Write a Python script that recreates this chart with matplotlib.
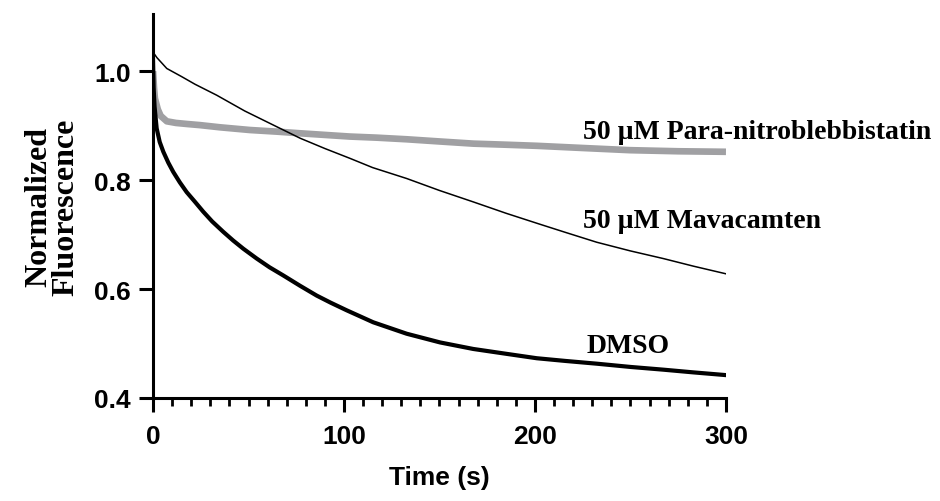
import numpy as np
import matplotlib
matplotlib.use('Agg')
import matplotlib.pyplot as plt
from matplotlib.ticker import MultipleLocator

# values (time in s, normalized fluorescence)
dmso_t = [0, 0.3, 0.8, 1.9, 3.5, 5.4, 8.0, 10.6, 14.0, 17.6, 22.0, 26.3, 31.0,
          36.8, 42.0, 47.3, 54.3, 61.0, 68.2, 77.0, 85.7, 93.0, 101.4, 115.3,
          132.8, 150.3, 167.7, 185.2, 200.9, 216.0, 232.3, 250.0, 267.2,
          283.0, 300.0]
dmso_v = [1.02, 0.97, 0.935, 0.895, 0.870, 0.852, 0.832, 0.815, 0.796, 0.778,
          0.760, 0.742, 0.724, 0.705, 0.689, 0.674, 0.656, 0.640, 0.625,
          0.606, 0.588, 0.575, 0.561, 0.539, 0.518, 0.502, 0.490, 0.481,
          0.473, 0.468, 0.463, 0.457, 0.452, 0.447, 0.442]

mava_t = [0, 2.0, 7.2, 15.0, 22.0, 33.3, 48.0, 64.8, 77.0, 90.0, 103.1,
          115.0, 132.8, 150.0, 167.7, 185.0, 202.6, 216.0, 232.3, 250.0,
          267.2, 283.0, 300.0]
mava_v = [1.035, 1.025, 1.005, 0.990, 0.976, 0.956, 0.927, 0.898, 0.877,
          0.858, 0.840, 0.823, 0.803, 0.781, 0.760, 0.739, 0.719, 0.704,
          0.686, 0.670, 0.656, 0.642, 0.628]

pnb_t = [0, 0.5, 1.0, 2.5, 4.0, 7.2, 12.0, 18.0, 24.6, 35.0, 50.8, 65.0, 77.0,
         90.0, 103.1, 117.0, 132.8, 150.0, 167.7, 185.0, 200.9, 225.0,
         249.7, 275.0, 300.0]
pnb_v = [1.0, 0.97, 0.95, 0.93, 0.918, 0.908, 0.905, 0.903, 0.901, 0.897,
         0.892, 0.889, 0.886, 0.883, 0.880, 0.878, 0.875, 0.871, 0.867,
         0.865, 0.863, 0.859, 0.855, 0.853, 0.852]

labels = ['50 µM Para-nitroblebbistatin', '50 µM Mavacamten', 'DMSO']
label_x = [225, 225, 227]
label_y = [0.889, 0.726, 0.496]

fig = plt.figure(figsize=(9.4, 5.02), dpi=100)
ax = fig.add_axes([0.1628, 0.2052, 0.6095, 0.7649])

ax.plot(pnb_t, pnb_v, color='#a0a0a3', lw=4.8, solid_capstyle='butt')
ax.plot(mava_t, mava_v, color='black', lw=1.1)
ax.plot(dmso_t, dmso_v, color='black', lw=3.0)

serif = ['Liberation Serif', 'DejaVu Serif']
sans = ['Liberation Sans', 'DejaVu Sans']

for lab, x, y in zip(labels, label_x, label_y):
    ax.text(x, y, lab, fontsize=20, fontweight='bold', family=serif,
            ha='left', va='center', clip_on=False)

ax.set_xlim(0, 300)
ax.set_ylim(0.4, 1.105)
ax.set_xticks([0, 100, 200, 300])
ax.set_yticks([0.4, 0.6, 0.8, 1.0])
ax.xaxis.set_minor_locator(MultipleLocator(10))

for s in ['top', 'right']:
    ax.spines[s].set_visible(False)
for s in ['left', 'bottom']:
    ax.spines[s].set_linewidth(2.2)

ax.tick_params(axis='both', which='major', direction='out', length=10,
               width=2.2, labelsize=19)
ax.tick_params(axis='y', which='major', pad=6)
ax.tick_params(axis='x', which='major', pad=9)
ax.tick_params(axis='x', which='minor', direction='out', length=5.5, width=2.0)
for t in ax.get_xticklabels() + ax.get_yticklabels():
    t.set_fontweight('bold')
    t.set_family(sans)

ax.set_xlabel('Time (s)', fontsize=19, fontweight='bold', family=sans, labelpad=12)
ax.set_ylabel('Normalized\nFluorescence', fontsize=23, fontweight='bold',
              family=serif, labelpad=10, linespacing=0.9)

fig.savefig('out.png', dpi=100)
